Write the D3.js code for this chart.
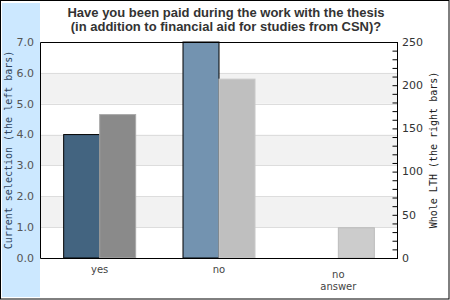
<!DOCTYPE html>
<html>
<head>
<meta charset="utf-8">
<script src="https://cdn.jsdelivr.net/npm/d3@7"></script>
<style>
  body { margin: 0; background: #fff; }
  svg { display: block; }
</style>
</head>
<body>
<svg id="chart" width="450" height="300"></svg>
<script>
// data
var categories = ["yes", "no", "no answer"];
var selection = [4.0, 7.0, 0];      // left bars, left axis
var wholeLth = [166, 207, 35];      // right bars, right axis
var leftTicks = [0, 1, 2, 3, 4, 5, 6, 7];
var rightTicks = [0, 50, 100, 150, 200, 250];

var leftColors = ["#436480", "#7393b0", "#a8c0d6"];
var rightColors = ["#8a8a8a", "#bfbfbf", "#cccccc"];
var rightStroke = ["#a9a9a9", "#c8c8c8", "#bbbbbb"];

var svg = d3.select("#chart"),
    width = +svg.attr("width"),
    height = +svg.attr("height"),
    m = {top: 42, right: 52, bottom: 42, left: 40};

var x = d3.scaleBand().domain(categories).range([m.left, width - m.right]),
    yL = d3.scaleLinear().domain([0, 7]).range([height - m.bottom, m.top]),
    yR = d3.scaleLinear().domain([0, 250]).range([height - m.bottom, m.top]);

// outer frame + blue strip
svg.append("rect").attr("x", 0.5).attr("y", 0.5).attr("width", width - 1.5).attr("height", height - 1.5)
    .attr("fill", "#fff").attr("stroke", "#000");
svg.append("rect").attr("x", 2).attr("y", 3).attr("width", m.left - 2).attr("height", height - 6)
    .attr("fill", "#cce8ff");

// alternating bands
leftTicks.slice(0, -1).forEach(function (t) {
    if (t % 2 == 1) {
        svg.append("rect").attr("x", m.left).attr("width", width - m.right - m.left)
            .attr("y", yL(t + 1)).attr("height", yL(t) - yL(t + 1)).attr("fill", "#f2f2f2");
    }
});
svg.append("g").selectAll("line").data(leftTicks.slice(1, -1)).join("line")
    .attr("x1", m.left).attr("x2", width - m.right)
    .attr("y1", function (d) { return Math.round(yL(d)) + 0.5; })
    .attr("y2", function (d) { return Math.round(yL(d)) + 0.5; })
    .attr("stroke", "#dddddd");

// bars
var bw = 36;
svg.append("g").selectAll("rect").data(categories).join("rect")
    .attr("x", function (d) { return x(d) + x.bandwidth() / 2 - bw; })
    .attr("y", function (d, i) { return yL(selection[i]); })
    .attr("width", bw)
    .attr("height", function (d, i) { return yL(0) - yL(selection[i]); })
    .attr("fill", function (d, i) { return leftColors[i]; })
    .attr("stroke", "#000")
    .attr("display", function (d, i) { return selection[i] > 0 ? null : "none"; });

svg.append("g").selectAll("rect").data(categories).join("rect")
    .attr("x", function (d) { return x(d) + x.bandwidth() / 2; })
    .attr("y", function (d, i) { return yR(wholeLth[i]); })
    .attr("width", bw)
    .attr("height", function (d, i) { return yR(0) - yR(wholeLth[i]); })
    .attr("fill", function (d, i) { return rightColors[i]; })
    .attr("stroke", function (d, i) { return rightStroke[i]; });

// plot frame (top, left, bottom)
svg.append("path")
    .attr("d", "M" + (width - m.right) + "," + (m.top + 0.5) + "H" + (m.left + 0.5) + "V" + (height - m.bottom + 0.5) + "H" + (width - m.right))
    .attr("fill", "none").attr("stroke", "#000");

// left axis labels
svg.append("g").selectAll("text").data(leftTicks).join("text")
    .attr("x", 34).attr("y", function (d) { return yL(d); })
    .attr("dy", "0.35em").attr("text-anchor", "end")
    .attr("font-family", "DejaVu Sans").attr("font-size", 11).attr("fill", "#555")
    .text(function (d) { return d3.format(".1f")(d); });

// right axis
var rAxis = d3.axisRight(yR).tickValues(d3.range(0, 251, 10)).tickSize(-5).tickFormat("");
svg.append("g").attr("transform", "translate(" + (width - m.right - 0.5) + ",0)")
    .call(rAxis)
    .call(function (g) {
        g.selectAll("line").attr("stroke", "#000");
        g.select(".domain").attr("stroke", "#000").attr("d", "M0," + m.top + "V" + (height - m.bottom + 1));
    });
svg.append("g").selectAll("text").data(rightTicks).join("text")
    .attr("x", width - m.right + 4).attr("y", function (d) { return yR(d); })
    .attr("dy", "0.35em")
    .attr("font-family", "DejaVu Sans").attr("font-size", 11).attr("fill", "#333")
    .text(function (d) { return d; });

// category labels
svg.append("g").selectAll("text").data(categories).join("text")
    .attr("text-anchor", "middle")
    .attr("font-family", "DejaVu Sans").attr("font-size", 10).attr("fill", "#444")
    .each(function (d) {
        var words = d.split(" ");
        var t = d3.select(this);
        var y0 = words.length > 1 ? 278 : 273;
        words.forEach(function (w, j) {
            t.append("tspan").attr("x", x(d) + x.bandwidth() / 2).attr("y", y0 + j * 12).text(w);
        });
    });

// axis titles
svg.append("text")
    .attr("transform", "translate(12," + ((m.top + height - m.bottom) / 2) + ") rotate(-90)")
    .attr("text-anchor", "middle")
    .attr("font-family", "DejaVu Sans Mono").attr("font-size", 10).attr("fill", "#2f4560")
    .text("Current selection (the left bars)");
svg.append("text")
    .attr("transform", "translate(437," + ((m.top + height - m.bottom) / 2) + ") rotate(-90)")
    .attr("text-anchor", "middle")
    .attr("font-family", "DejaVu Sans Mono").attr("font-size", 10).attr("fill", "#222")
    .text("Whole LTH (the right bars)");

// title
var title = ["Have you been paid during the work with the thesis",
             "(in addition to financial aid for studies from CSN)?"];
svg.append("g").selectAll("text").data(title).join("text")
    .attr("x", 226).attr("y", function (d, i) { return 17 + i * 14; })
    .attr("text-anchor", "middle")
    .attr("font-family", "Liberation Sans").attr("font-weight", "bold").attr("font-size", 13).attr("fill", "#333")
    .text(function (d) { return d; });
</script>
</body>
</html>
